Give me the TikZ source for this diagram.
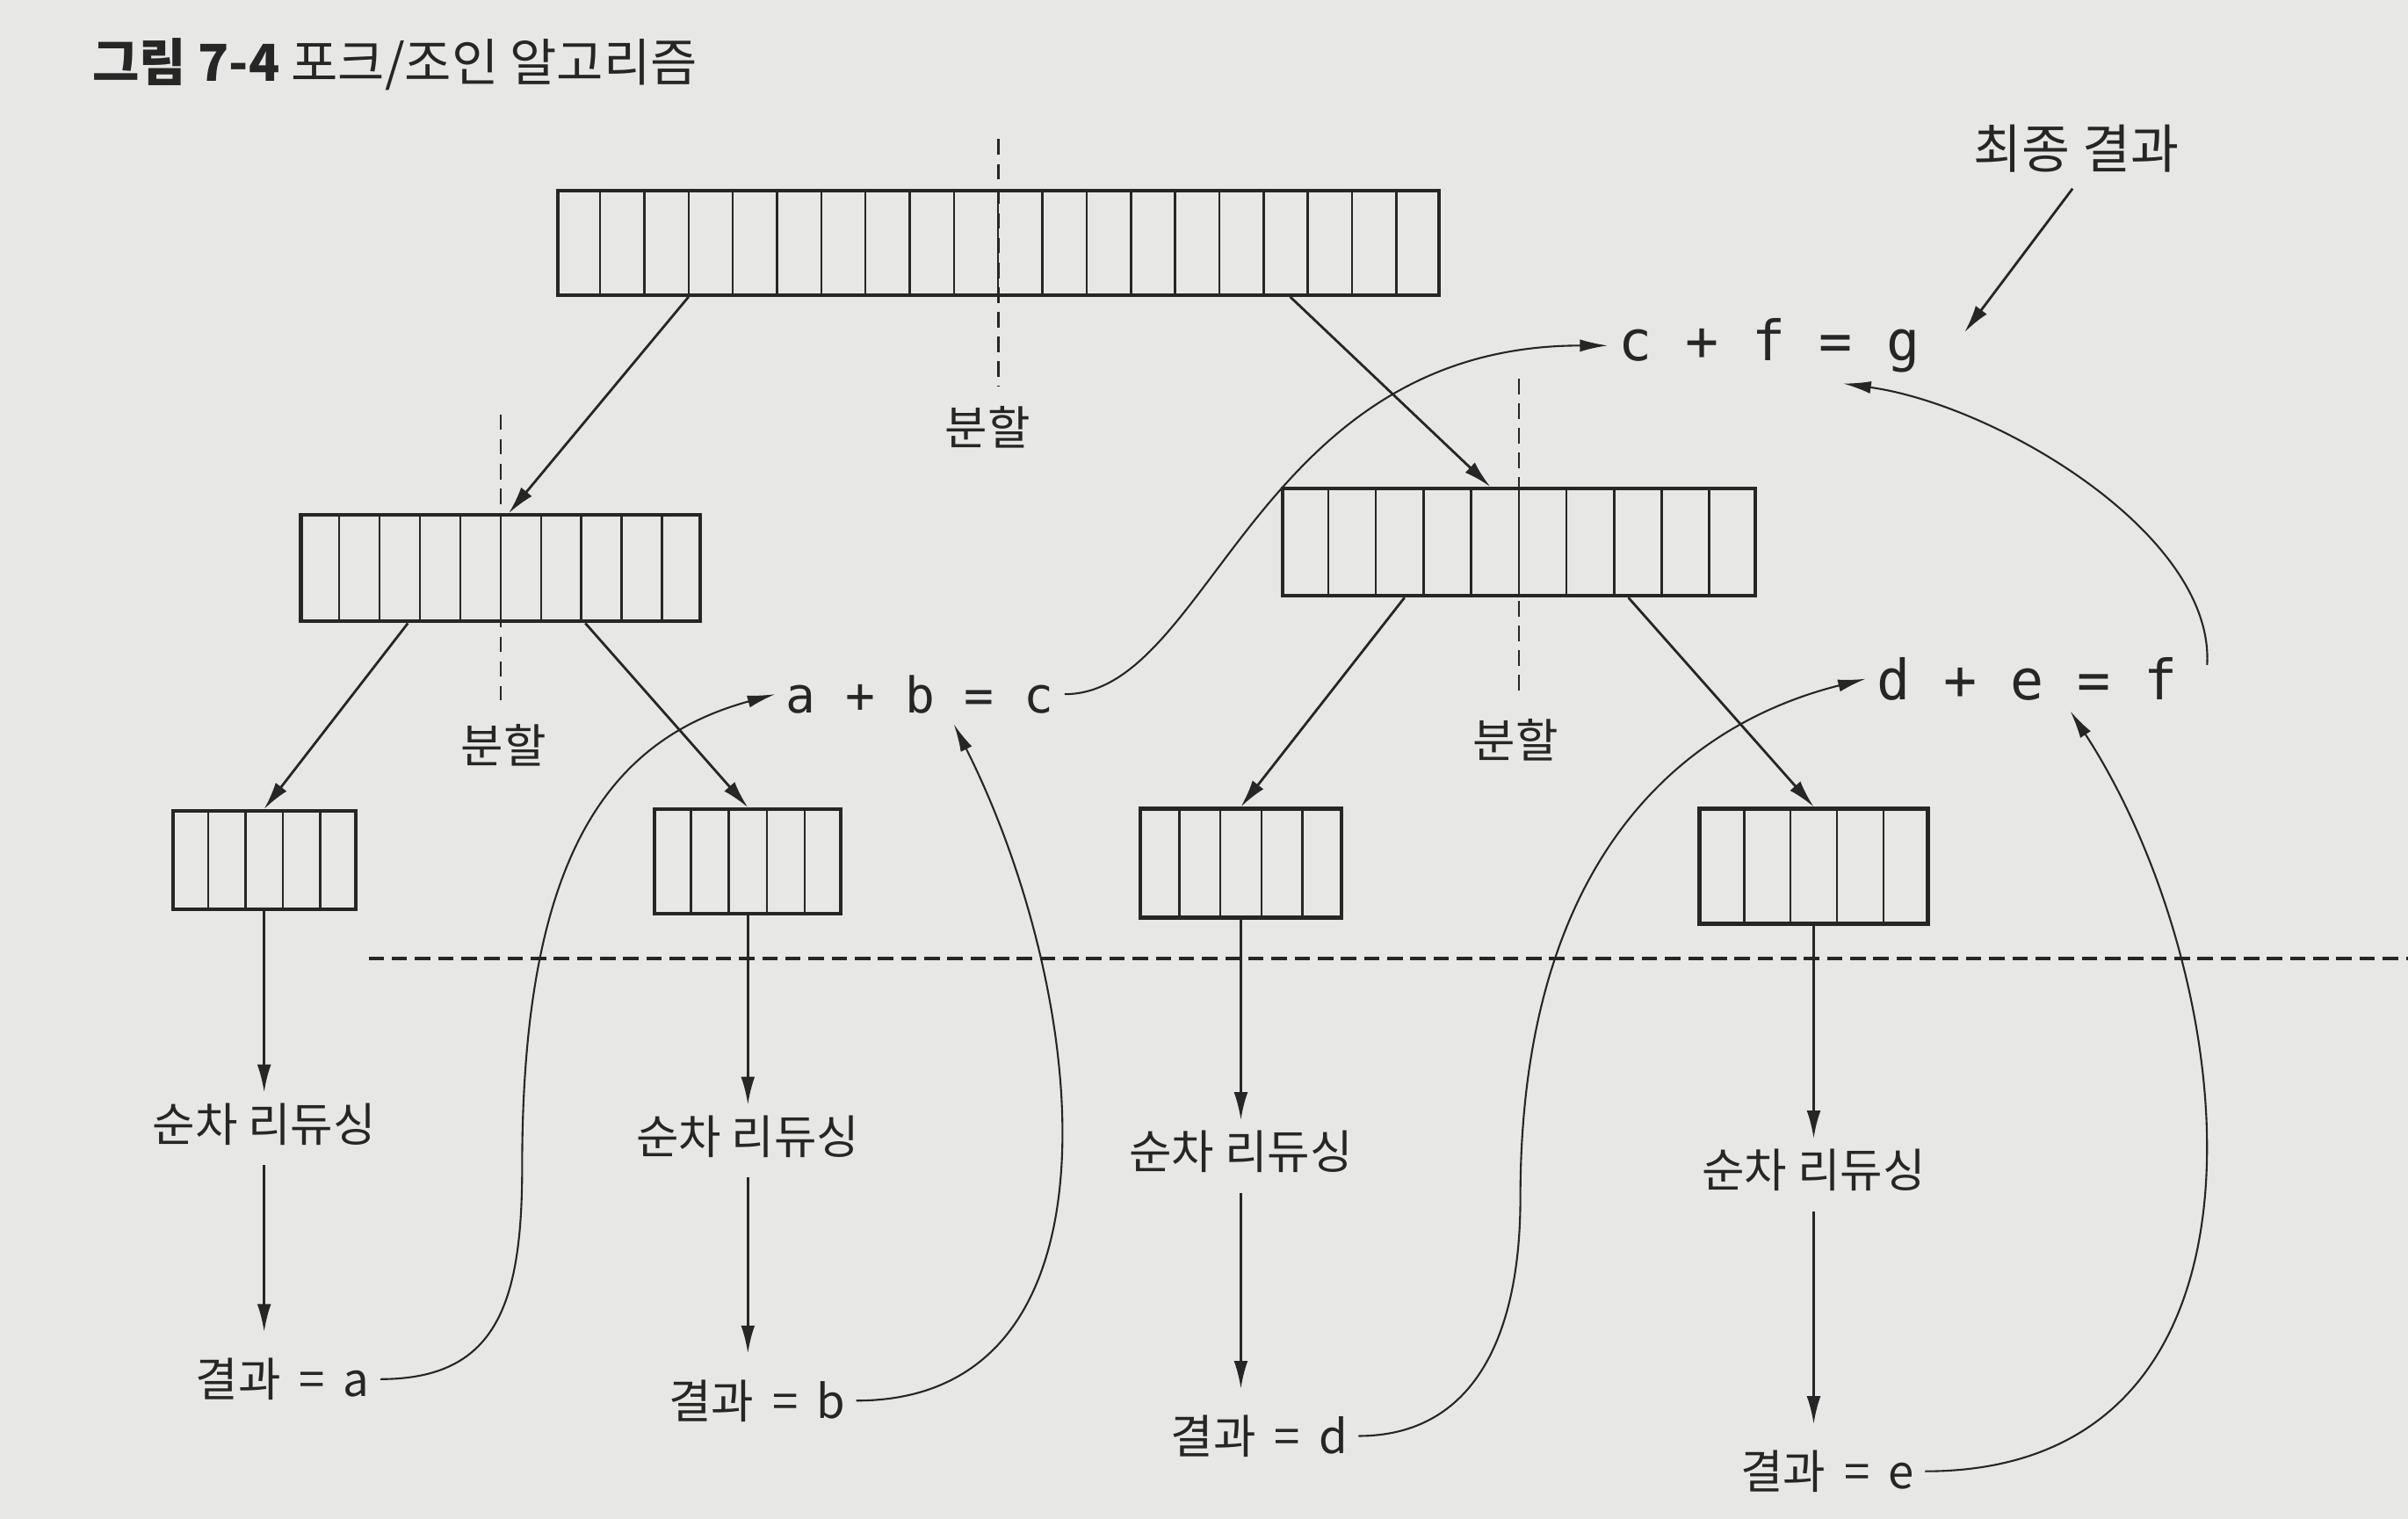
\documentclass[tikz,border=0pt]{standalone}
\usepackage{fontspec}
\setmainfont{Noto Sans CJK KR}
\newfontfamily\eqfont{DejaVu Sans Mono}
\usetikzlibrary{arrows.meta,calc}
\definecolor{paper}{RGB}{231,231,229}
\definecolor{ink}{RGB}{38,38,38}
\newcommand\eqsp{\hspace{0.4em}}
\tikzset{
  arr/.style={draw=ink, line width=1.2pt, inner sep=0pt},
  cell/.style={ink, line width=0.7pt},
  split/.style={ink, line width=0.7pt, dash pattern=on 5pt off 3pt},
  cut/.style={ink, line width=1pt, dash pattern=on 5pt off 2.5pt},
  go/.style={ink, line width=0.8pt, -{Latex[length=9pt,width=4.5pt]}},
  flow/.style={ink, line width=0.6pt, -{Latex[length=9pt,width=4pt]}},
  lbl/.style={text=ink, font=\fontsize{15}{18}\selectfont},
  eq/.style={text=ink, font=\eqfont\fontsize{18}{20}\selectfont}
}
\begin{document}
\begin{tikzpicture}[x=0.01748cm, y=-0.01748cm]
\fill[paper] (0,0) rectangle (1568,989);
\useasboundingbox (0,0) rectangle (1568,989);
\node[anchor=west, inner sep=0pt, text=ink, font=\fontsize{16.5}{19}\selectfont] (title) at (60,42) {\textbf{그림 7-4} 포크/조인 알고리즘};
\node[arr, minimum width=10.03cm, minimum height=1.19cm] (top) at (650,158) {};
\node[arr, minimum width=4.55cm, minimum height=1.21cm] (ml) at (326,370) {};
\node[arr, minimum width=5.38cm, minimum height=1.22cm] (mr) at (989,353) {};
\node[arr, minimum width=2.08cm, minimum height=1.12cm] (l1) at (172,560) {};
\node[arr, minimum width=2.12cm, minimum height=1.19cm] (l2) at (487,561) {};
\node[arr, minimum width=2.29cm, minimum height=1.24cm] (l3) at (808,562) {};
\node[arr, minimum width=2.60cm, minimum height=1.31cm] (l4) at (1181,564) {};
\foreach \a/\n in {top/20,ml/10,mr/10,l1/5,l2/5,l3/5,l4/5}{
  \pgfmathtruncatemacro\m{\n-1}
  \foreach \k in {1,...,\m}
    \draw[cell] ($(\a.south west)!\k/\n!(\a.south east)$) -- ($(\a.north west)!\k/\n!(\a.north east)$);
}
\draw[split] ([yshift=16pt]top.north) -- ([yshift=-29pt]top.south);
\draw[split] ([yshift=32pt]ml.north) -- ([yshift=-25pt]ml.south);
\draw[split] ([yshift=35pt]mr.north) -- ([yshift=-33pt]mr.south);
\node[lbl] (s0) at (643,278) {분할};
\node[lbl] (s1) at (328,485) {분할};
\node[lbl] (s2) at (987,482) {분할};
\draw[go] ($(top.south west)!0.15!(top.south east)$) -- ($(ml.north west)!0.52!(ml.north east)$);
\draw[go] ($(top.south west)!0.83!(top.south east)$) -- ($(mr.north west)!0.44!(mr.north east)$);
\draw[go] ($(ml.south west)!0.27!(ml.south east)$) -- (l1.north);
\draw[go] ($(ml.south west)!0.71!(ml.south east)$) -- (l2.north);
\draw[go] ($(mr.south west)!0.26!(mr.south east)$) -- (l3.north);
\draw[go] ($(mr.south west)!0.73!(mr.south east)$) -- (l4.north);
\coordinate (cutL) at (240,624);
\coordinate (cutR) at (1568,624);
\draw[cut] (cutL) -- (cutR);
\node[lbl] (r1) at (172,732) {순차 리듀싱};
\node[lbl] (r2) at (487,740) {순차 리듀싱};
\node[lbl] (r3) at (808,750) {순차 리듀싱};
\node[lbl] (r4) at (1181,762) {순차 리듀싱};
\node[lbl] (res1) at (184,898) {결과\eqsp=\eqsp a};
\node[lbl] (res2) at (493,912) {결과\eqsp=\eqsp b};
\node[lbl] (res3) at (820,935) {결과\eqsp=\eqsp d};
\node[lbl] (res4) at (1190,958) {결과\eqsp=\eqsp e};
\draw[go] (l1.south) -- (r1.north);
\draw[go] (l2.south) -- (r2.north);
\draw[go] (l3.south) -- (r3.north);
\draw[go] (l4.south) -- (r4.north);
\draw[go, shorten <=3pt, shorten >=5pt] (r1.south) -- (r1.south |- res1.north);
\draw[go, shorten <=3pt, shorten >=5pt] (r2.south) -- (r2.south |- res2.north);
\draw[go, shorten <=3pt, shorten >=5pt] (r3.south) -- (r3.south |- res3.north);
\draw[go, shorten <=3pt, shorten >=5pt] (r4.south) -- (r4.south |- res4.north);
\node[eq, font=\eqfont\fontsize{16}{18}\selectfont] (ab) at (599,452) {a + b = c};
\node[eq] (cfg) at (1152,225) {c + f = g};
\node[eq] (de) at (1320,442) {d + e = f};
\node[lbl, font=\fontsize{17}{20}\selectfont] (fin) at (1352,97) {최종 결과};
\draw[go, shorten <=2pt] (fin.south) -- ([xshift=11pt,yshift=-8pt]cfg.north east);
\draw[flow] (res1.east) .. controls +(75,0) and +(0,90) .. (340,760) .. controls +(0,-200) and +(-110,30) .. (ab.west);
\draw[flow] (res2.east) .. controls +(181,0) and +(88,175) .. ([xshift=11pt]ab.south);
\draw[flow] (ab.east) .. controls +(95,0) and +(-230,0) .. (cfg.west);
\draw[flow] (res3.east) .. controls +(75,0) and +(0,90) .. (990,780) .. controls +(0,-220) and +(-120,30) .. (de.west);
\draw[flow] (res4.east) .. controls +(245,0) and +(112,172) .. ([xshift=14pt]de.south);
\draw[flow] ([xshift=6pt,yshift=-6pt]de.north east) .. controls +(5,-85) and +(100,14) .. ([xshift=24pt]cfg.south);
\end{tikzpicture}
\end{document}
